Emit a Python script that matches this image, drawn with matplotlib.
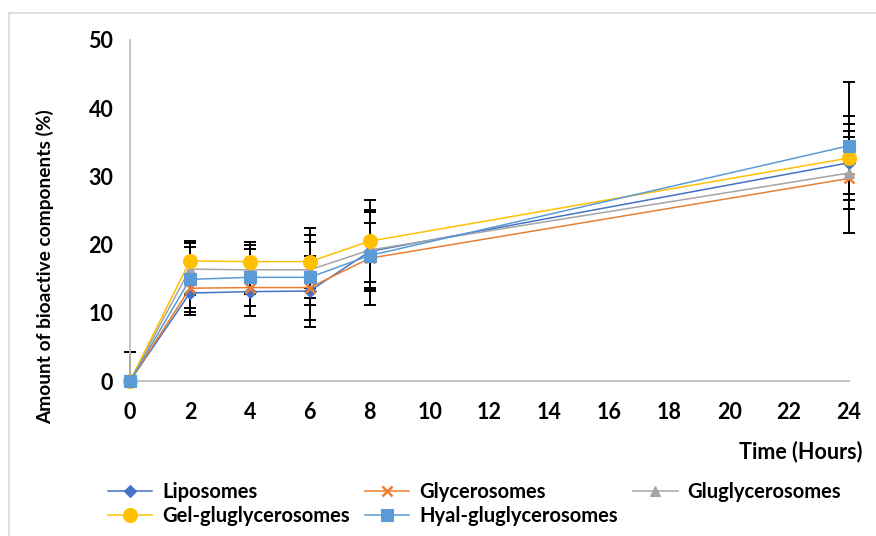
import matplotlib
matplotlib.use("Agg")
import matplotlib.pyplot as plt
from matplotlib.lines import Line2D

plt.rcParams['font.family'] = ['Lato', 'DejaVu Sans']

hours = [0, 2, 4, 6, 8, 24]
series_names = ["Liposomes", "Glycerosomes", "Gluglycerosomes",
                "Gel-gluglycerosomes", "Hyal-gluglycerosomes"]
liposomes = [0, 12.9, 13.1, 13.2, 19.0, 32.0]
glycerosomes = [0, 13.6, 13.7, 13.7, 18.0, 29.7]
gluglycerosomes = [0, 16.4, 16.3, 16.3, 19.2, 30.5]
gel_gluglycerosomes = [0, 17.6, 17.5, 17.5, 20.5, 32.7]
hyal_gluglycerosomes = [0, 14.9, 15.2, 15.2, 18.4, 34.5]

# error amounts
err_liposomes = [4.3, 2.2, 2.1, 2.0, 5.8, 4.6]
err_glycerosomes = [0, 3.9, 4.1, 4.7, 6.8, 8.0]
err_gluglycerosomes = [0, 3.8, 3.6, 4.1, 5.9, 5.3]
err_gel = [0, 3.0, 2.9, 3.9, 6.0, 6.2]
err_hyal = [0, 4.8, 4.2, 7.3, 4.7, 9.3]

x_ticks = list(range(0, 25, 2))
y_ticks = [0, 10, 20, 30, 40, 50]

values = [liposomes, glycerosomes, gluglycerosomes, gel_gluglycerosomes, hyal_gluglycerosomes]
errors = [err_liposomes, err_glycerosomes, err_gluglycerosomes, err_gel, err_hyal]
colors = ["#4472C4", "#ED7D31", "#A5A5A5", "#FFC000", "#5B9BD5"]
markers = ["D", "x", "^", "o", "s"]
msizes = [6.5, 7, 7.5, 10, 8]

fig = plt.figure(figsize=(8.76, 5.36), dpi=100)
ax = fig.add_axes([130/876, 1-381/536, (849-130)/876, (381-40)/536])

for v, e in zip(values, errors):
    lower = [0 if h == 0 else ee for h, ee in zip(hours, e)]
    ax.errorbar(hours, v, yerr=[lower, e], fmt='none', ecolor='black', elinewidth=1.4,
                capsize=4.5, capthick=1.4, zorder=1, clip_on=False)

for v, c, m, ms, name in zip(values, colors, markers, msizes, series_names):
    ax.plot(hours, v, color=c, marker=m, markersize=ms, linewidth=1.1,
            markeredgewidth=1.8 if m == 'x' else 0.8, markeredgecolor=c,
            label=name, zorder=3, clip_on=False)

ax.set_xlim(0, 24)
ax.set_ylim(0, 50)
ax.set_xticks(x_ticks)
ax.set_yticks(y_ticks)
ax.tick_params(length=0, labelsize=15.5)
ax.tick_params(axis='y', pad=12)
ax.tick_params(axis='x', pad=15)
for lab in ax.get_xticklabels() + ax.get_yticklabels():
    lab.set_fontweight('bold')
for s in ['top', 'right']:
    ax.spines[s].set_visible(False)
for s in ['left', 'bottom']:
    ax.spines[s].set_color('#BFBFBF')
    ax.spines[s].set_linewidth(1.3)

ax.set_ylabel("Amount of bioactive components (%)", fontsize=13.8, fontweight='bold')
ax.yaxis.set_label_coords(-0.105, 0.335)
fig.text(862/876, 1-452/536, "Time (Hours)", ha='right', va='center',
         fontsize=15.5, fontweight='bold')

handles, labels = ax.get_legend_handles_labels()
order = [0, 3, 1, 4, 2]
fig.legend([handles[i] for i in order], [labels[i] for i in order],
           loc='upper left', bbox_to_anchor=(100/876, 1-474/536),
           ncol=3, frameon=False, handlelength=2.2, handletextpad=0.5,
           columnspacing=0.75, labelspacing=0.2, borderaxespad=0,
           prop={'weight': 'bold', 'size': 14.5})

# chart border (left and top visible)
fig.add_artist(Line2D([9/876, 9/876], [0, 1-13/536], color='#D9D9D9', lw=1.2))
fig.add_artist(Line2D([9/876, 1], [1-13/536, 1-13/536], color='#D9D9D9', lw=1.2))

fig.savefig("out.png", dpi=100)
